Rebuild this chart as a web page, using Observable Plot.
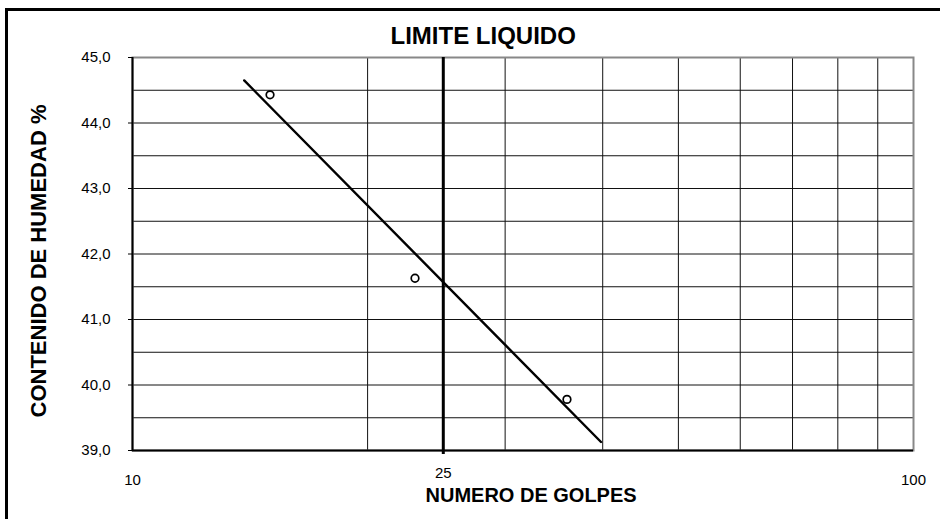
<!DOCTYPE html>
<html>
<head>
<meta charset="utf-8">
<script src="https://cdn.jsdelivr.net/npm/d3@7"></script>
<script src="https://cdn.jsdelivr.net/npm/@observablehq/plot@0.6"></script>
<style>
  html, body { margin: 0; padding: 0; background: #fff; }
  #wrap { position: relative; width: 940px; height: 519px; overflow: hidden; }
  #border { position: absolute; left: 5px; top: 8px; width: 1000px; height: 600px; border-left: 3px solid #000; border-top: 3px solid #000; }
  #chart { position: absolute; left: 0; top: 0; }
</style>
</head>
<body>
<div id="wrap"><div id="border"></div><div id="chart"></div></div>
<script>
// Measured points (Numero de golpes vs Contenido de humedad %)
const golpes = [15, 23, 36];
const humedad = [44.43, 41.63, 39.78];
// Trend line end points
const trendGolpes = [13.9, 39.8];
const trendHumedad = [44.65, 39.13];
// Grid / ticks
const xGrid = [20, 30, 40, 50, 60, 70, 80, 90];
const yGrid = [39.5, 40, 40.5, 41, 41.5, 42, 42.5, 43, 43.5, 44, 44.5];
const yTicks = [39, 40, 41, 42, 43, 44, 45];
const xTickLabels = [10, 100];
const refBlows = [25];
const titleText = ["LIMITE LIQUIDO"];
const xLabel = ["NUMERO DE GOLPES"];
const yLabel = ["CONTENIDO DE HUMEDAD %"];

const pts = golpes.map((g, i) => ({g, h: humedad[i]}));
const trend = trendGolpes.map((g, i) => ({g, h: trendHumedad[i]}));

const chart = Plot.plot({
  width: 940,
  height: 519,
  marginLeft: 132,
  marginRight: 27,
  marginTop: 57,
  marginBottom: 69,
  style: {fontFamily: "'Liberation Sans', Arial, sans-serif", background: "transparent", color: "#000"},
  x: {type: "log", domain: [10, 100]},
  y: {domain: [39, 45]},
  marks: [
    Plot.ruleY(yGrid, {stroke: "#111", strokeWidth: 1}),
    Plot.ruleX(xGrid, {stroke: "#111", strokeWidth: 1}),
    Plot.frame({stroke: "#888", strokeWidth: 2}),
    Plot.ruleX([10], {stroke: "#000", strokeWidth: 2}),
    Plot.ruleY([39], {stroke: "#000", strokeWidth: 2}),
    Plot.ruleX(refBlows, {stroke: "#000", strokeWidth: 3, insetBottom: -4}),
    Plot.axisY(yTicks, {tickSize: 4, tickPadding: 18, fontSize: 15, tickFormat: d => d.toFixed(1).replace(".", ","), label: null}),
    Plot.axisX(xTickLabels, {tickSize: 0, tickPadding: 24, fontSize: 15, tickFormat: d => String(d), label: null}),
    Plot.axisX(refBlows, {tickSize: 0, tickPadding: 17, fontSize: 15, tickFormat: d => String(d), label: null}),
    Plot.line(trend, {x: "g", y: "h", stroke: "#000", strokeWidth: 2.4}),
    Plot.dot(pts, {x: "g", y: "h", r: 3.8, stroke: "#000", strokeWidth: 1.7, fill: "#fff"}),
    Plot.text(titleText, {frameAnchor: "top-left", text: d => d, textAnchor: "start", lineAnchor: "middle", dx: 258, dy: -21.5, fontSize: 24, fontWeight: "bold"}),
    Plot.text(xLabel, {frameAnchor: "bottom-left", text: d => d, textAnchor: "start", lineAnchor: "middle", dx: 293, dy: 45.5, fontSize: 20, fontWeight: "bold"}),
    Plot.text(yLabel, {frameAnchor: "left", text: d => d, textAnchor: "middle", lineAnchor: "middle", rotate: -90, dx: -94, dy: 7, fontSize: 22, fontWeight: "bold"})
  ]
});
document.getElementById("chart").appendChild(chart);
</script>
</body>
</html>
